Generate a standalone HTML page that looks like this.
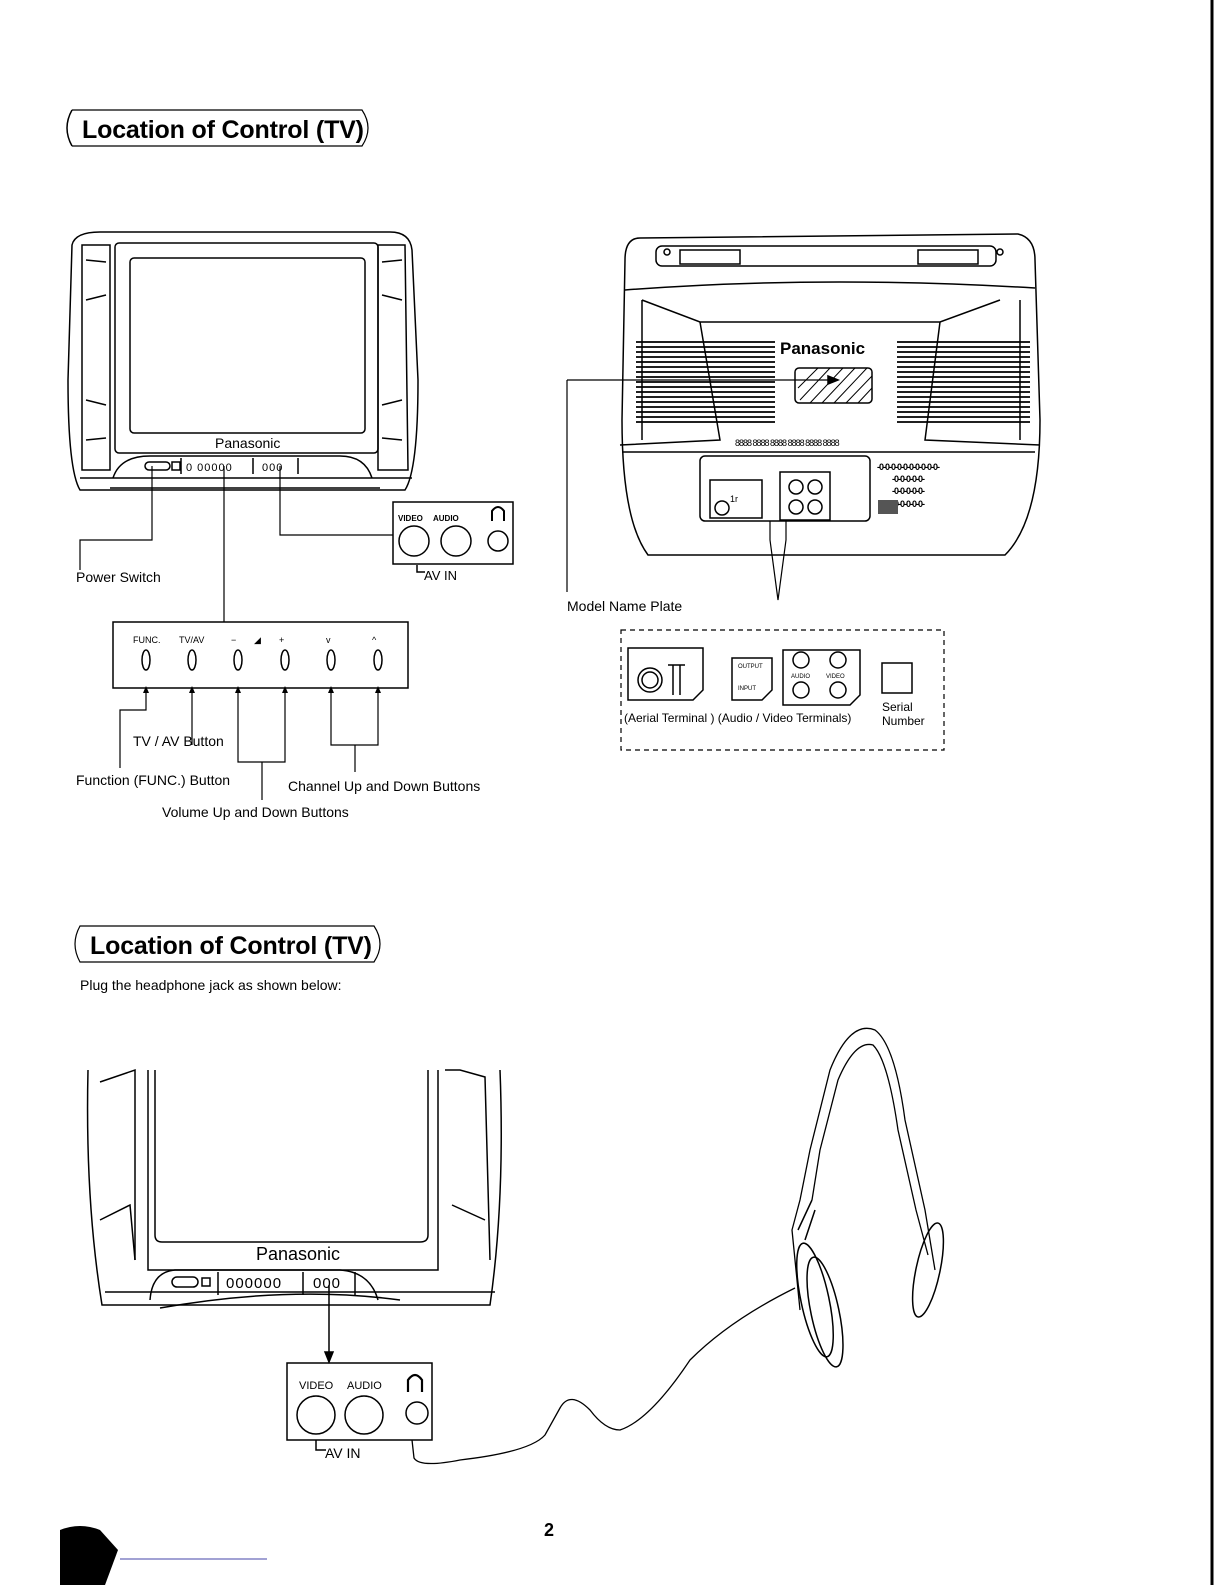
<!DOCTYPE html>
<html><head><meta charset="utf-8"><style>
html,body{margin:0;padding:0;background:#fff}
svg{display:block}
text{font-family:"Liberation Sans",sans-serif;fill:#000}
.c{font-family:"Liberation Sans Narrow","Liberation Sans",sans-serif}
</style></head><body>
<svg width="1225" height="1585" viewBox="0 0 1225 1585" xmlns="http://www.w3.org/2000/svg" fill="none" stroke="#000" stroke-width="1.5">
<!-- right border -->
<line x1="1212" y1="0" x2="1212" y2="1585" stroke-width="3"/>
<!-- Title 1 -->
<path d="M72,110 Q62,128 72,146" />
<path d="M72,110 L362,110 Q374,128 362,146 L72,146" stroke-width="1.2"/>
<text x="82" y="138" font-size="25" font-weight="bold" stroke="none" class="c" textLength="282">Location of Control (TV)</text>

<!-- FRONT TV -->
<path d="M72,245 Q75,232 100,232 L390,232 Q410,232 412,250 L418,380 Q418,470 405,490 L80,490 Q68,470 68,380 Z"/>
<path d="M82,245 L110,245 L110,470 L82,470 Z"/>
<path d="M378,245 L405,245 L408,470 L378,470 Z"/>
<path d="M86,260 L106,262 M86,300 L106,295 M86,400 L106,405 M86,440 L106,438 M382,262 L402,260 M382,295 L402,300 M382,405 L402,400 M382,438 L402,440"/>
<rect x="115" y="243" width="263" height="210" rx="4"/>
<rect x="130" y="258" width="235" height="175" rx="4"/>
<text x="215" y="448" font-size="14" stroke="none">Panasonic</text>
<path d="M113,478 Q120,456 150,456 L340,456 Q365,456 372,478"/>
<line x1="80" y1="478" x2="412" y2="478"/>
<line x1="110" y1="488" x2="380" y2="488"/>
<rect x="145" y="462" width="25" height="8" rx="4"/>
<rect x="172" y="462" width="8" height="8"/>
<line x1="181" y1="458" x2="181" y2="474"/><line x1="253" y1="458" x2="253" y2="474"/><line x1="298" y1="458" x2="298" y2="474"/>
<text x="186" y="471" font-size="11" stroke="none" letter-spacing="1">0 00000</text>
<text x="262" y="471" font-size="11" stroke="none" letter-spacing="1">000</text>
<!-- leaders front -->
<polyline points="152,466 152,540 80,540 80,570" stroke-width="1.2"/>
<polyline points="224,466 224,622" stroke-width="1.2"/>
<polyline points="280,466 280,535 393,535" stroke-width="1.2"/>
<text x="76" y="582" font-size="14" stroke="none" class="c">Power Switch</text>
<!-- AV box top -->
<rect x="393" y="502" width="120" height="62"/>
<text x="398" y="521" font-size="8" stroke="none" font-weight="bold">VIDEO</text>
<text x="433" y="521" font-size="8" stroke="none" font-weight="bold">AUDIO</text>
<path d="M492,521 L492,511 Q498,503 504,511 L504,521" stroke-width="2"/>
<circle cx="414" cy="541" r="15"/><circle cx="456" cy="541" r="15"/><circle cx="498" cy="541" r="10"/>
<polyline points="417,565 417,572 425,572 M450,572 458,572 458,565"/>
<text x="424" y="580" font-size="13" stroke="none" class="c">AV IN</text>
<!-- control panel -->
<rect x="113" y="622" width="295" height="66"/>
<g font-size="9" stroke="none"><text x="133" y="643">FUNC.</text><text x="179" y="643">TV/AV</text><text x="231" y="643">−</text><text x="254" y="643">◢</text><text x="279" y="643">+</text><text x="326" y="643">v</text><text x="372" y="643">^</text></g>
<g><ellipse cx="146" cy="660" rx="4" ry="10"/><ellipse cx="192" cy="660" rx="4" ry="10"/><ellipse cx="238" cy="660" rx="4" ry="10"/><ellipse cx="285" cy="660" rx="4" ry="10"/><ellipse cx="331" cy="660" rx="4" ry="10"/><ellipse cx="378" cy="660" rx="4" ry="10"/></g>
<g stroke-width="1.2">
<polyline points="146,690 146,710 120,710 120,768"/>
<polyline points="192,690 192,745"/>
<polyline points="238,690 238,762 285,762 285,690"/>
<line x1="262" y1="762" x2="262" y2="800"/>
<polyline points="331,690 331,745 378,745 378,690"/>
<line x1="355" y1="745" x2="355" y2="772"/>
</g>
<g fill="#000" stroke="none"><path d="M146,686 l-3,7 h6z"/><path d="M192,686 l-3,7 h6z"/><path d="M238,686 l-3,7 h6z"/><path d="M285,686 l-3,7 h6z"/><path d="M331,686 l-3,7 h6z"/><path d="M378,686 l-3,7 h6z"/></g>
<g font-size="14" stroke="none" class="c">
<text x="133" y="746">TV / AV Button</text>
<text x="76" y="785">Function (FUNC.) Button</text>
<text x="288" y="791">Channel Up and Down Buttons</text>
<text x="162" y="817">Volume Up and Down Buttons</text>
</g>

<!-- BACK TV -->
<path d="M640,238 Q625,238 625,260 L622,420 Q622,520 648,555 L1005,555 Q1040,520 1040,420 L1035,260 Q1035,238 1018,234 Z"/>
<rect x="656" y="246" width="340" height="20" rx="6"/>
<rect x="680" y="250" width="60" height="14"/><rect x="918" y="250" width="60" height="14"/>
<circle cx="667" cy="252" r="3"/><circle cx="1000" cy="252" r="3"/>
<path d="M625,290 Q820,275 1035,288"/>
<path d="M642,300 L700,322 L940,322 L1000,300 M642,300 L642,440 M1020,300 L1020,440"/>
<path d="M700,322 L720,440 L620,445 M940,322 L925,440 L1040,445"/>
<g stroke-width="1.8">
<path d="M636,342H775M636,347H775M636,352H775M636,357H775M636,362H775M636,367H775M636,372H775M636,377H775M636,382H775M636,387H775M636,392H775M636,397H775M636,402H775M636,407H775M636,412H775M636,417H775M636,422H775"/>
<path d="M897,342H1030M897,347H1030M897,352H1030M897,357H1030M897,362H1030M897,367H1030M897,372H1030M897,377H1030M897,382H1030M897,387H1030M897,392H1030M897,397H1030M897,402H1030M897,407H1030M897,412H1030M897,417H1030M897,422H1030"/>
</g>
<text x="780" y="354" font-size="17" font-weight="bold" stroke="none">Panasonic</text>
<rect x="795" y="368" width="77" height="35" rx="4"/>
<path d="M800,400 l30,-32 M810,403 l33,-35 M822,403 l33,-35 M834,403 l33,-35 M846,403 l26,-27 M858,403 l14,-15 M798,388 l20,-20" stroke-width="1"/>
<polyline points="567,380 828,380" stroke-width="1.2"/><path d="M838,380 l-10,-4 v8z" fill="#000"/>
<line x1="567" y1="380" x2="567" y2="592" stroke-width="1.2"/>
<text x="567" y="611" font-size="14" stroke="none" class="c">Model Name Plate</text>
<text x="735" y="446" font-size="9" stroke="none" letter-spacing="-1">8888 8888 8888 8888 8888 8888</text>
<path d="M622,452 L1035,452"/>
<rect x="700" y="456" width="170" height="65" rx="5"/>
<rect x="710" y="480" width="52" height="38"/><circle cx="722" cy="508" r="7"/>
<text x="730" y="502" font-size="9" stroke="none">1r</text>
<rect x="780" y="472" width="50" height="48"/>
<circle cx="796" cy="487" r="7"/><circle cx="815" cy="487" r="7"/><circle cx="796" cy="507" r="7"/><circle cx="815" cy="507" r="7"/>
<text x="877" y="470" font-size="9" font-weight="bold" stroke="none" letter-spacing="-1">-0-0-0-0-0-0-0-0-0-0-</text>
<text x="892" y="482" font-size="9" font-weight="bold" stroke="none" letter-spacing="-1">-0-0-0-0-0-</text>
<text x="892" y="494" font-size="9" font-weight="bold" stroke="none" letter-spacing="-1">-0-0-0-0-0-</text>
<text x="892" y="507" font-size="9" font-weight="bold" stroke="none" letter-spacing="-1">-0-0-0-0-0-</text>
<rect x="878" y="500" width="20" height="14" fill="#555" stroke="none"/>
<path d="M770,521 L770,540 L778,600 L786,540 L786,521" stroke-width="1.2"/>
<!-- dashed box -->
<rect x="621" y="630" width="323" height="120" stroke-dasharray="5,4" stroke-width="1.2"/>
<path d="M628,648 L703,648 L703,690 L693,700 L628,700 Z"/>
<circle cx="650" cy="680" r="12"/><circle cx="650" cy="680" r="8"/>
<path d="M668,665 H685 M673,665 V695 M680,665 V695"/>
<path d="M732,658 L772,658 L772,690 L762,700 L732,700 Z"/>
<text x="738" y="668" font-size="6" stroke="none">OUTPUT</text><text x="738" y="690" font-size="6" stroke="none">INPUT</text>
<path d="M783,650 L860,650 L860,695 L850,705 L783,705 Z"/>
<circle cx="801" cy="660" r="8"/><circle cx="838" cy="660" r="8"/><circle cx="801" cy="690" r="8"/><circle cx="838" cy="690" r="8"/>
<text x="791" y="678" font-size="6" stroke="none">AUDIO</text><text x="826" y="678" font-size="6" stroke="none">VIDEO</text>
<rect x="882" y="663" width="30" height="30"/>
<g font-size="12" stroke="none" class="c"><text x="624" y="722">(Aerial Terminal ) (Audio / Video Terminals)</text><text x="882" y="711">Serial</text><text x="882" y="725">Number</text></g>

<!-- Title 2 -->
<path d="M80,926 Q70,944 80,962 L374,962 Q386,944 374,926 Z" stroke-width="1.2"/>
<text x="90" y="954" font-size="25" font-weight="bold" stroke="none" class="c" textLength="282">Location of Control (TV)</text>
<text x="80" y="990" font-size="14" stroke="none" class="c">Plug the headphone jack as shown below:</text>

<!-- BOTTOM TV -->
<path d="M88,1070 Q85,1200 102,1305 L490,1305 Q505,1200 500,1070"/>
<path d="M100,1082 L135,1070 L135,1260 M445,1070 L460,1070 L485,1077 L490,1260"/>
<path d="M148,1070 L148,1270 L438,1270 L438,1070 M155,1070 L155,1235 Q155,1242 162,1242 L420,1242 Q428,1242 428,1235 L428,1070"/>
<path d="M100,1220 L130,1205 L135,1260 M452,1205 L485,1220"/>
<text x="256" y="1260" font-size="18" stroke="none">Panasonic</text>
<path d="M150,1300 Q152,1272 175,1270 L340,1270 Q370,1272 378,1300"/>
<line x1="105" y1="1292" x2="495" y2="1292"/>
<path d="M160,1308 Q290,1285 400,1300"/>
<rect x="172" y="1277" width="26" height="10" rx="5"/><rect x="202" y="1278" width="8" height="8"/>
<line x1="218" y1="1272" x2="218" y2="1295"/><line x1="303" y1="1272" x2="303" y2="1295"/><line x1="355" y1="1272" x2="355" y2="1295"/>
<text x="226" y="1288" font-size="15" stroke="none" letter-spacing="1">000000</text>
<text x="313" y="1288" font-size="15" stroke="none" letter-spacing="1">000</text>
<line x1="329" y1="1285" x2="329" y2="1355"/><path d="M329,1362 l-4,-10 h8z" fill="#000"/>
<rect x="287" y="1363" width="145" height="77"/>
<text x="299" y="1389" font-size="11" stroke="none">VIDEO</text><text x="347" y="1389" font-size="11" stroke="none">AUDIO</text>
<path d="M408,1392 L408,1380 Q415,1370 422,1380 L422,1392" stroke-width="2.2"/>
<circle cx="316" cy="1415" r="19"/><circle cx="364" cy="1415" r="19"/><circle cx="417" cy="1413" r="11"/>
<polyline points="316,1440 316,1450 326,1450 M350,1450 358,1450 358,1440"/>
<text x="325" y="1458" font-size="14" stroke="none" class="c">AV IN</text>
<!-- cable -->
<path d="M412,1440 L414,1458 Q420,1468 460,1460 Q530,1452 545,1435 L560,1408 Q570,1390 590,1410 Q605,1430 620,1430 Q650,1420 690,1360 Q730,1320 795,1288" stroke-width="1.3"/>
<!-- headphones -->
<path d="M800,1310 L792,1230 L800,1200 L810,1150 L830,1070 Q850,1020 875,1030 Q895,1045 905,1120 L925,1210 L935,1270" stroke-width="1.3"/>
<path d="M812,1200 L820,1150 L838,1080 Q855,1040 873,1045 Q888,1060 898,1130 L916,1210 L928,1255" stroke-width="1.3"/>
<path d="M798,1230 L812,1200 M805,1240 L815,1210"/>
<ellipse cx="815" cy="1300" rx="14" ry="58" transform="rotate(-12 815 1300)"/>
<ellipse cx="825" cy="1312" rx="14" ry="56" transform="rotate(-12 825 1312)"/>
<ellipse cx="928" cy="1270" rx="12" ry="48" transform="rotate(12 928 1270)"/>
<!-- page number -->
<text x="544" y="1536" font-size="18" font-weight="bold" stroke="none">2</text>
<!-- scan blob -->
<path d="M60,1530 Q80,1522 100,1530 L118,1550 L105,1585 L60,1585 Z" fill="#000" stroke="none"/>
<line x1="120" y1="1559" x2="267" y2="1559" stroke="#44a" stroke-width="1"/>
</svg>
</body></html>
